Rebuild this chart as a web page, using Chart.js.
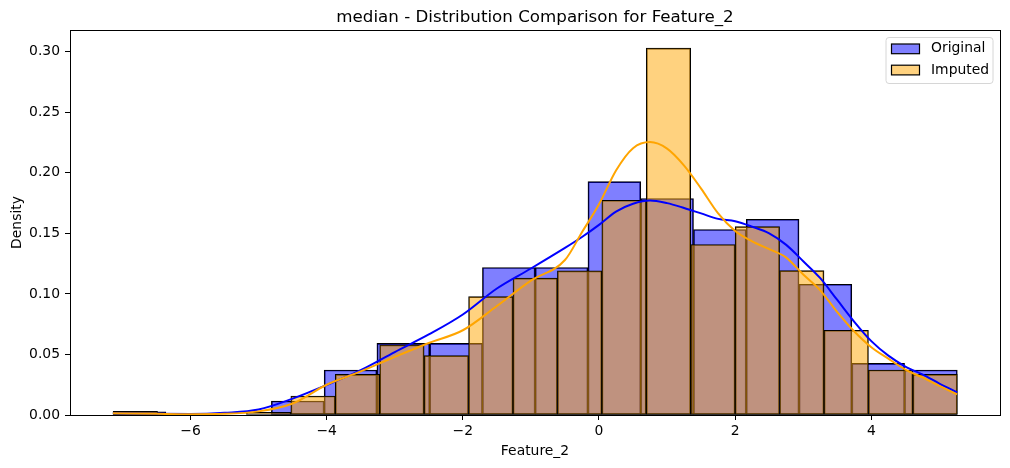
<!DOCTYPE html>
<html>
<head>
<meta charset="utf-8">
<script src="https://cdn.jsdelivr.net/npm/chart.js@4.4.1/dist/chart.umd.min.js"></script>
<style>
  html, body { margin: 0; padding: 0; background: #fff; }
  canvas { display: block; }
</style>
</head>
<body>
<canvas id="chart" width="1010" height="468"></canvas>
<script>
// histogram bins (edges) and densities
const origEdges = [-7.137, -6.362, -5.587, -4.812, -4.037, -3.262, -2.487, -1.712, -0.937,
                   -0.162, 0.613, 1.388, 2.163, 2.938, 3.713, 4.488, 5.263];
const origDensity = [0.0027, 0, 0, 0.0116, 0.0372, 0.0592, 0.0592, 0.1218,
                     0.1218, 0.1928, 0.1788, 0.1532, 0.1617, 0.108, 0.0427, 0.0372];

const impEdges = [-7.137, -6.484, -5.832, -5.179, -4.526, -3.874, -3.221, -2.569, -1.916, -1.263,
                  -0.611, 0.042, 0.694, 1.347, 2.000, 2.652, 3.305, 3.958, 4.610, 5.263];
const impDensity = [0.003, 0, 0, 0.0022, 0.0157, 0.0336, 0.0579, 0.049, 0.0978, 0.113,
                    0.119, 0.1774, 0.303, 0.1408, 0.1556, 0.1193, 0.07, 0.0372, 0.0336];

// kde curves
const origKdeX = [-7.14, -6.5, -6.0, -5.5, -5.0, -4.5, -4.0, -3.5, -3.0, -2.5, -2.0, -1.5, -1.0,
                  -0.5, -0.25, 0, 0.25, 0.5, 0.75, 1.0, 1.25, 1.5, 1.75, 2.0, 2.25, 2.5, 2.75,
                  3.0, 3.25, 3.5, 3.75, 4.0, 4.25, 4.5, 4.75, 5.0, 5.26];
const origKdeY = [0.0015, 0.001, 0.0008, 0.0018, 0.0045, 0.0135, 0.0248, 0.037, 0.052, 0.0665,
                  0.083, 0.1045, 0.121, 0.138, 0.147, 0.157, 0.168, 0.1745, 0.1772, 0.175,
                  0.171, 0.1665, 0.162, 0.160, 0.1555, 0.150, 0.1405, 0.127, 0.113, 0.095,
                  0.077, 0.061, 0.049, 0.040, 0.0335, 0.026, 0.0187];

const impKdeX = [-7.14, -6.5, -6.0, -5.5, -5.0, -4.5, -4.0, -3.5, -3.0, -2.5, -2.0, -1.5, -1.0,
                 -0.5, -0.25, 0, 0.25, 0.5, 0.75, 1.0, 1.25, 1.5, 1.75, 2.0, 2.25, 2.5, 2.75,
                 3.0, 3.25, 3.5, 3.75, 4.0, 4.25, 4.5, 4.75, 5.0, 5.26];
const impKdeY = [0.0015, 0.001, 0.0007, 0.001, 0.003, 0.0095, 0.025, 0.036, 0.048, 0.0595,
                 0.070, 0.090, 0.111, 0.128, 0.151, 0.174, 0.202, 0.2204, 0.2254, 0.220,
                 0.206, 0.187, 0.1665, 0.152, 0.1435, 0.137, 0.130, 0.116, 0.103, 0.085,
                 0.069, 0.056, 0.0465, 0.0375, 0.031, 0.024, 0.017];

const xTicks = [-6, -4, -2, 0, 2, 4];
const yTicks = [0, 0.05, 0.10, 0.15, 0.20, 0.25, 0.30];
const seriesNames = ['Original', 'Imputed'];
const titleText = 'median - Distribution Comparison for Feature_2';

const FONT = '"DejaVu Sans", sans-serif';

function toBars(edges, heights) {
  return heights.map((h, i) => ({ x: (edges[i] + edges[i + 1]) / 2, y: h }));
}
function toPoints(xs, ys) {
  return xs.map((x, i) => ({ x: x, y: ys[i] }));
}
function fmtX(v) {
  return v < 0 ? '\u2212' + Math.abs(v) : String(v);
}

// frame, title and legend drawn matplotlib style
const extras = {
  id: 'extras',
  afterDraw(chart) {
    const ctx = chart.ctx;
    const a = chart.chartArea;
    ctx.save();
    ctx.strokeStyle = '#000';
    ctx.lineWidth = 1;
    ctx.strokeRect(Math.round(a.left) + 0.5, Math.round(a.top) + 0.5,
                   Math.round(a.right - a.left), Math.round(a.bottom - a.top));

    ctx.fillStyle = '#000';
    ctx.font = '16.7px ' + FONT;
    ctx.textAlign = 'center';
    ctx.textBaseline = 'alphabetic';
    ctx.fillText(titleText, (a.left + a.right) / 2, 21.5);

    // legend box
    const bx = 886, by = 37.5, bw = 107, bh = 46, r = 3;
    ctx.beginPath();
    ctx.moveTo(bx + r, by);
    ctx.arcTo(bx + bw, by, bx + bw, by + bh, r);
    ctx.arcTo(bx + bw, by + bh, bx, by + bh, r);
    ctx.arcTo(bx, by + bh, bx, by, r);
    ctx.arcTo(bx, by, bx + bw, by, r);
    ctx.closePath();
    ctx.fillStyle = 'rgba(255,255,255,0.8)';
    ctx.fill();
    ctx.strokeStyle = '#d6d6d6';
    ctx.stroke();

    const fills = ['rgba(0,0,255,0.5)', 'rgba(255,165,0,0.5)'];
    const rows = [48.8, 70];
    ctx.font = '13.9px ' + FONT;
    ctx.textAlign = 'left';
    ctx.textBaseline = 'middle';
    seriesNames.forEach((name, i) => {
      const cy = rows[i];
      ctx.fillStyle = '#fff';
      ctx.fillRect(891.5, cy - 4.8, 28, 9.7);
      ctx.fillStyle = fills[i];
      ctx.fillRect(891.5, cy - 4.8, 28, 9.7);
      ctx.strokeStyle = '#000';
      ctx.lineWidth = 1.2;
      ctx.strokeRect(891.5, cy - 4.8, 28, 9.7);
      ctx.fillStyle = '#000';
      ctx.fillText(name, 931, cy);
    });
    ctx.restore();
  }
};

const barStyle = {
  type: 'bar',
  borderColor: '#000',
  borderWidth: 1,
  borderSkipped: false,
  barPercentage: 1,
  categoryPercentage: 1,
  grouped: false
};

new Chart(document.getElementById('chart'), {
  type: 'bar',
  data: {
    datasets: [
      Object.assign({}, barStyle, {
        label: seriesNames[0],
        data: toBars(origEdges, origDensity),
        backgroundColor: 'rgba(0,0,255,0.5)',
        xAxisID: 'x',
        order: 3
      }),
      Object.assign({}, barStyle, {
        label: seriesNames[1],
        data: toBars(impEdges, impDensity),
        backgroundColor: 'rgba(255,165,0,0.5)',
        xAxisID: 'x2',
        order: 2
      }),
      {
        type: 'line',
        label: seriesNames[0] + ' kde',
        data: toPoints(origKdeX, origKdeY),
        borderColor: 'blue',
        borderWidth: 2,
        pointRadius: 0,
        fill: false,
        cubicInterpolationMode: 'monotone',
        xAxisID: 'x',
        order: 1
      },
      {
        type: 'line',
        label: seriesNames[1] + ' kde',
        data: toPoints(impKdeX, impKdeY),
        borderColor: 'orange',
        borderWidth: 2,
        pointRadius: 0,
        fill: false,
        cubicInterpolationMode: 'monotone',
        xAxisID: 'x',
        order: 0
      }
    ]
  },
  options: {
    responsive: false,
    devicePixelRatio: 1,
    animation: false,
    events: [],
    layout: { padding: { top: 30, right: 10, left: 0, bottom: 0 } },
    plugins: {
      legend: { display: false },
      title: { display: false },
      tooltip: { enabled: false }
    },
    scales: {
      x: {
        type: 'linear',
        min: -7.77,
        max: 5.89,
        offset: false,
        afterFit(scale) { scale.height = 53; },
        afterBuildTicks(scale) { scale.ticks = xTicks.map(v => ({ value: v })); },
        border: { display: false },
        grid: { display: true, offset: false, drawOnChartArea: false, drawTicks: true, tickLength: 5, color: '#000' },
        ticks: {
          color: '#000',
          padding: 3,
          maxRotation: 0,
          font: { family: FONT, size: 13.9 },
          callback: v => fmtX(v)
        },
        title: {
          display: true,
          text: 'Feature_2',
          color: '#000',
          font: { family: FONT, size: 13.9 },
          padding: { top: 0, bottom: 8.5 }
        }
      },
      x2: {
        type: 'linear',
        display: false,
        min: -7.77,
        max: 5.89,
        offset: false,
        grid: { offset: false },
        afterBuildTicks(scale) { scale.ticks = xTicks.map(v => ({ value: v })); }
      },
      y: {
        type: 'linear',
        min: 0,
        max: 0.318,
        afterFit(scale) { scale.width = 70; },
        afterBuildTicks(scale) { scale.ticks = yTicks.map(v => ({ value: v })); },
        border: { display: false },
        grid: { display: true, offset: false, drawOnChartArea: false, drawTicks: true, tickLength: 5, color: '#000' },
        ticks: {
          color: '#000',
          padding: 5,
          font: { family: FONT, size: 13.9 },
          callback: v => v.toFixed(2)
        },
        title: {
          display: true,
          text: 'Density',
          color: '#000',
          font: { family: FONT, size: 13.9 },
          padding: { top: 9, bottom: 0 }
        }
      }
    }
  },
  plugins: [extras]
});
</script>
</body>
</html>
